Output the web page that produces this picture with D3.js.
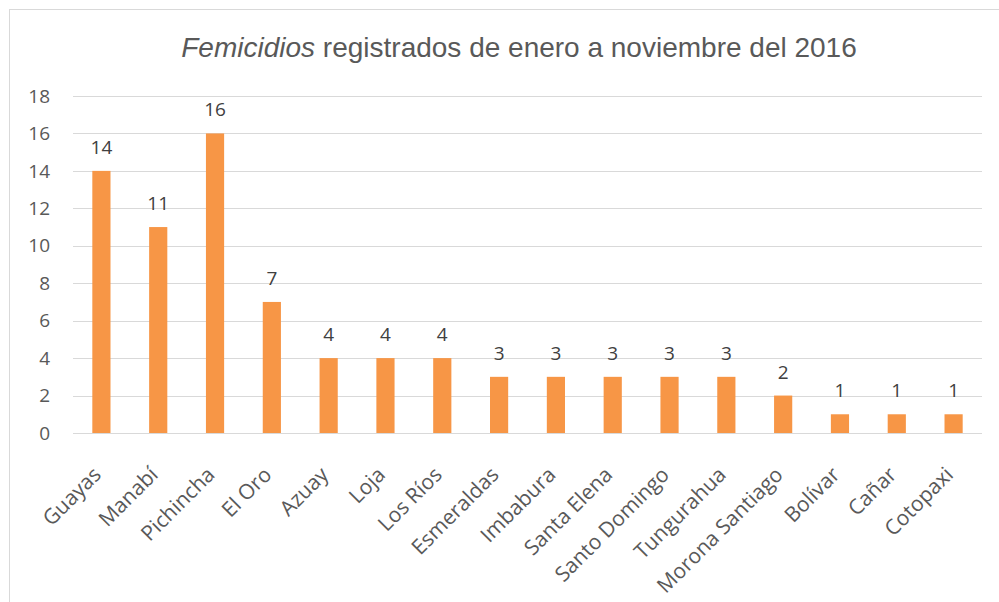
<!DOCTYPE html>
<html>
<head>
<meta charset="utf-8">
<title>Femicidios 2016</title>
<script src="https://d3js.org/d3.v7.min.js"></script>
<style>
  body, html { margin: 0; padding: 0; background: #fff; }
  svg { display: block; }
  .grid line { stroke: #d9d9d9; stroke-width: 1; shape-rendering: crispEdges; }
  .tick-label { font-family: "Open Sans", sans-serif; font-size: 19px; fill: #595959; }
  .cat-label { font-family: "Open Sans", sans-serif; font-size: 21px; fill: #595959; }
  .val-label { font-family: "Open Sans", sans-serif; font-size: 19px; fill: #404040; }
  .title { font-family: "Liberation Sans", Arial, sans-serif; font-size: 28px; fill: #595959; }
</style>
</head>
<body>
<svg id="chart"></svg>
<script>
// data
var provincias = ["Guayas", "Manabí", "Pichincha", "El Oro", "Azuay", "Loja", "Los Ríos",
  "Esmeraldas", "Imbabura", "Santa Elena", "Santo Domingo", "Tungurahua",
  "Morona Santiago", "Bolívar", "Cañar", "Cotopaxi"];
var casos = [14, 11, 16, 7, 4, 4, 4, 3, 3, 3, 3, 3, 2, 1, 1, 1];
var yTicks = [0, 2, 4, 6, 8, 10, 12, 14, 16, 18];

var W = 999, H = 602;
var margin = {top: 96, right: 17, bottom: 169, left: 73};

var svg = d3.select("#chart").attr("width", W).attr("height", H);

// frame round the chart
svg.append("rect")
  .attr("x", 9.5).attr("y", 9.5)
  .attr("width", W).attr("height", H)
  .attr("fill", "none").attr("stroke", "#d9d9d9");

var x = d3.scaleBand()
  .domain(provincias)
  .range([margin.left, W - margin.right])
  .paddingInner(0.68).paddingOuter(0.34);

var y = d3.scaleLinear()
  .domain([0, 18])
  .range([H - margin.bottom, margin.top]);

// gridlines
svg.append("g").attr("class", "grid")
  .selectAll("line").data(yTicks).enter().append("line")
  .attr("x1", margin.left).attr("x2", W - margin.right)
  .attr("y1", function(d) { return Math.round(y(d)) + 0.5; })
  .attr("y2", function(d) { return Math.round(y(d)) + 0.5; });

// y tick labels
svg.append("g").selectAll("text").data(yTicks).enter().append("text")
  .attr("class", "tick-label")
  .attr("x", 50).attr("y", function(d) { return y(d); })
  .attr("dy", "0.35em")
  .attr("text-anchor", "end")
  .text(function(d) { return d; });

// bars
svg.append("g").selectAll("rect").data(casos).enter().append("rect")
  .attr("x", function(d, i) { return x(provincias[i]); })
  .attr("y", function(d) { return y(d); })
  .attr("width", x.bandwidth())
  .attr("height", function(d) { return y(0) - y(d); })
  .attr("fill", "#f79646");

// value labels
svg.append("g").selectAll("text").data(casos).enter().append("text")
  .attr("class", "val-label")
  .attr("x", function(d, i) { return x(provincias[i]) + x.bandwidth() / 2; })
  .attr("y", function(d) { return y(d) - 17; })
  .attr("text-anchor", "middle")
  .text(function(d) { return d; });

// category labels, rotated
svg.append("g").selectAll("text").data(provincias).enter().append("text")
  .attr("class", "cat-label")
  .attr("text-anchor", "end")
  .attr("transform", function(d) {
    var cx = x(d) + x.bandwidth() / 2;
    return "translate(" + (cx + 1) + "," + (y(0) + 43) + ") rotate(-45)";
  })
  .text(function(d) { return d; });

// title
var t = svg.append("text").attr("class", "title")
  .attr("x", 519).attr("y", 57).attr("text-anchor", "middle");
t.append("tspan").attr("font-style", "italic").text("Femicidios");
t.append("tspan").text(" registrados de enero a noviembre del 2016");
</script>
</body>
</html>
